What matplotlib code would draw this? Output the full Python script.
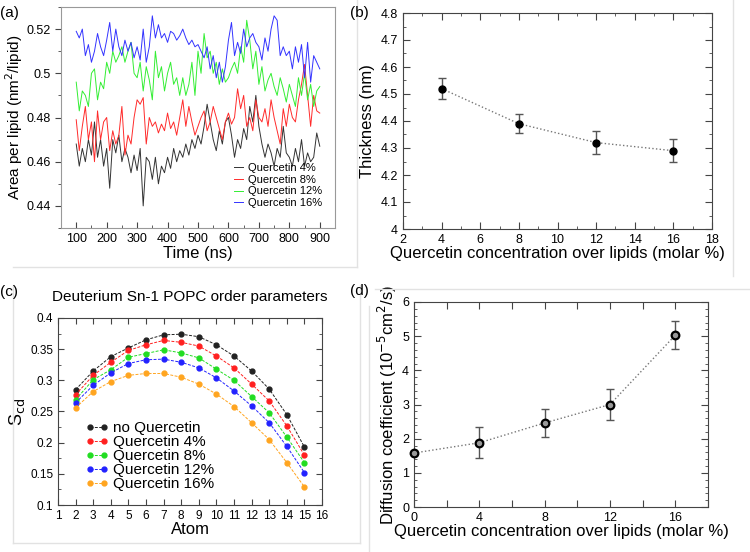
import matplotlib
matplotlib.use("Agg")
from matplotlib import pyplot as plt
from matplotlib.lines import Line2D
from matplotlib.ticker import MultipleLocator

plt.rcParams['font.family'] = ['Liberation Sans', 'DejaVu Sans']

# ---- panel (a): area per lipid vs time, one value every 10 ns ----
time_ns = list(range(100, 901, 10))
apl_4 = [0.468, 0.458, 0.466, 0.460, 0.470, 0.463, 0.478, 0.462, 0.470, 0.458,
         0.466, 0.448, 0.470, 0.464, 0.472, 0.460, 0.466, 0.462, 0.455, 0.463,
         0.456, 0.466, 0.440, 0.462, 0.460, 0.452, 0.462, 0.450, 0.458, 0.455,
         0.462, 0.457, 0.466, 0.460, 0.465, 0.462, 0.468, 0.463, 0.470, 0.466,
         0.472, 0.468, 0.476, 0.486, 0.478, 0.470, 0.465, 0.474, 0.468, 0.478,
         0.480, 0.472, 0.462, 0.470, 0.466, 0.475, 0.470, 0.485, 0.478, 0.490,
         0.476, 0.468, 0.462, 0.468, 0.464, 0.458, 0.466, 0.462, 0.476, 0.464,
         0.462, 0.458, 0.466, 0.460, 0.470, 0.458, 0.464, 0.460, 0.462, 0.473,
         0.467]
apl_8 = [0.479, 0.465, 0.476, 0.485, 0.470, 0.478, 0.460, 0.483, 0.470, 0.478,
         0.480, 0.465, 0.474, 0.468, 0.472, 0.485, 0.463, 0.472, 0.468, 0.480,
         0.488, 0.486, 0.489, 0.468, 0.480, 0.476, 0.478, 0.473, 0.477, 0.474,
         0.482, 0.475, 0.478, 0.472, 0.480, 0.488, 0.476, 0.485, 0.478, 0.472,
         0.476, 0.480, 0.483, 0.474, 0.478, 0.485, 0.480, 0.475, 0.470, 0.478,
         0.482, 0.477, 0.480, 0.493, 0.484, 0.490, 0.476, 0.480, 0.474, 0.488,
         0.480, 0.478, 0.484, 0.476, 0.488, 0.480, 0.474, 0.468, 0.484, 0.476,
         0.486, 0.480, 0.478, 0.488, 0.495, 0.504, 0.490, 0.476, 0.490, 0.483,
         0.482]
apl_12 = [0.496, 0.483, 0.492, 0.490, 0.485, 0.500, 0.502, 0.488, 0.496, 0.493,
          0.505, 0.500, 0.510, 0.505, 0.508, 0.512, 0.505, 0.510, 0.514, 0.500,
          0.498, 0.505, 0.492, 0.503, 0.497, 0.488, 0.510, 0.498, 0.503, 0.492,
          0.500, 0.505, 0.495, 0.498, 0.490, 0.498, 0.490, 0.495, 0.505, 0.490,
          0.510, 0.500, 0.518, 0.507, 0.510, 0.500, 0.505, 0.495, 0.502, 0.496,
          0.498, 0.502, 0.505, 0.500, 0.512, 0.505, 0.524, 0.515, 0.502, 0.510,
          0.495, 0.503, 0.492, 0.497, 0.500, 0.494, 0.490, 0.498, 0.493, 0.487,
          0.495, 0.490, 0.485, 0.498, 0.490, 0.500, 0.488, 0.495, 0.485, 0.492,
          0.494]
apl_16 = [0.519, 0.516, 0.520, 0.508, 0.513, 0.505, 0.510, 0.518, 0.512, 0.508,
          0.515, 0.523, 0.510, 0.520, 0.512, 0.508, 0.515, 0.510, 0.514, 0.507,
          0.512, 0.506, 0.520, 0.505, 0.512, 0.526, 0.516, 0.522, 0.516, 0.518,
          0.514, 0.519, 0.518, 0.515, 0.517, 0.520, 0.516, 0.513, 0.515, 0.512,
          0.513, 0.510, 0.507, 0.512, 0.502, 0.508, 0.498, 0.505, 0.496, 0.503,
          0.515, 0.523, 0.508, 0.514, 0.509, 0.520, 0.512, 0.516, 0.518, 0.514,
          0.512, 0.506, 0.516, 0.510, 0.520, 0.526, 0.524, 0.508, 0.512, 0.508,
          0.510, 0.502, 0.512, 0.505, 0.513, 0.498, 0.514, 0.496, 0.508, 0.505,
          0.502]
apl_labels = ["Quercetin 4%", "Quercetin 8%", "Quercetin 12%", "Quercetin 16%"]

# ---- panel (b): thickness ----
conc_b = [4, 8, 12, 16]
thickness = [4.52, 4.39, 4.32, 4.29]
thickness_err = [0.04, 0.035, 0.042, 0.042]

# ---- panel (c): order parameters for atoms 2..15 ----
atoms = list(range(2, 16))
scd_0 = [0.285, 0.315, 0.338, 0.352, 0.365, 0.373, 0.374, 0.370, 0.357, 0.339, 0.315, 0.286, 0.245, 0.193]
scd_4 = [0.277, 0.308, 0.329, 0.348, 0.357, 0.364, 0.361, 0.355, 0.339, 0.320, 0.294, 0.267, 0.227, 0.180]
scd_8 = [0.269, 0.301, 0.317, 0.337, 0.343, 0.349, 0.344, 0.336, 0.318, 0.300, 0.274, 0.248, 0.209, 0.168]
scd_12 = [0.264, 0.292, 0.312, 0.327, 0.333, 0.334, 0.329, 0.320, 0.304, 0.283, 0.259, 0.232, 0.194, 0.152]
scd_16 = [0.256, 0.282, 0.298, 0.308, 0.311, 0.311, 0.305, 0.294, 0.278, 0.258, 0.232, 0.205, 0.168, 0.129]
scd_labels = ["no Quercetin", "Quercetin 4%", "Quercetin 8%", "Quercetin 12%", "Quercetin 16%"]

# ---- panel (d): diffusion ----
conc_d = [0, 4, 8, 12, 16]
diffusion = [1.58, 1.88, 2.46, 3.00, 5.03]
diffusion_err = [0.0, 0.45, 0.42, 0.45, 0.40]

W, H = 750, 552
fig = plt.figure(figsize=(7.5, 5.52), dpi=100)

def px_axes(l, t, r, b):
    # axes from pixel box (left, top, right, bottom)
    return fig.add_axes([l / W, 1 - b / H, (r - l) / W, (b - t) / H])

spine_col = '#444444'

# faint panel frames like in the pasted figure
frame_col = '#e2e2e2'
for xs, ys in [([13, 357], [267, 267]), ([357, 357], [0, 267]),
               ([733, 733], [0, 276]),
               ([13, 13], [285, 543]), ([13, 360], [543, 543]), ([360, 360], [285, 543]),
               ([375, 750], [289, 289]), ([369, 369], [306, 552])]:
    fig.add_artist(Line2D([x / W for x in xs], [1 - y / H for y in ys],
                          color=frame_col, lw=1))

# ---------------- (a) ----------------
ax = px_axes(61, 7, 335, 228)
cols_a = ['#333333', '#ff2b2b', '#33ee33', '#3333ff']
for vals, c, lab in zip([apl_4, apl_8, apl_12, apl_16], cols_a, apl_labels):
    ax.plot(time_ns, vals, color=c, lw=0.7, label=lab)
ax.set_xlim(50, 950)
ax.set_ylim(0.43, 0.53)
ax.set_xticks(range(100, 901, 100))
ax.xaxis.set_minor_locator(MultipleLocator(50))
ax.set_yticks([0.44, 0.46, 0.48, 0.50, 0.52])
ax.set_yticklabels(["0.44", "0.46", "0.48", "0.5", "0.52"])
ax.yaxis.set_minor_locator(MultipleLocator(0.01))
ax.tick_params(axis='x', which='both', direction='in', labelsize=9)
ax.tick_params(axis='y', which='both', direction='out', labelsize=9)
ax.tick_params(which='major', length=4, color=spine_col)
ax.tick_params(which='minor', length=2, color=spine_col)
for s in ax.spines.values():
    s.set_color('#999999')
ax.set_xlabel("Time (ns)", fontsize=12, labelpad=1)
ax.set_ylabel("Area per lipid (nm$^2$/lipid)", fontsize=11, labelpad=1)
ax.legend(loc='lower right', frameon=False, fontsize=8, handlelength=0.8,
          handletextpad=0.5, labelspacing=0.15, borderaxespad=0,
          bbox_to_anchor=(0.97, 0.07))

# ---------------- (b) ----------------
ax = px_axes(403, 13, 712, 229)
ax.errorbar(conc_b, thickness, yerr=thickness_err, fmt='o', color='black', ms=5,
            ecolor='#555555', elinewidth=1, capsize=3, capthick=1, zorder=3)
ax.plot(conc_b, thickness, ls=':', color='#777777', lw=1)
ax.set_xlim(2, 18)
ax.set_ylim(4, 4.8)
ax.xaxis.set_major_locator(MultipleLocator(2))
ax.xaxis.set_minor_locator(MultipleLocator(1))
ax.yaxis.set_minor_locator(MultipleLocator(0.05))
ax.set_yticks([4.0, 4.1, 4.2, 4.3, 4.4, 4.5, 4.6, 4.7, 4.8])
ax.set_yticklabels(["4", "4.1", "4.2", "4.3", "4.4", "4.5", "4.6", "4.7", "4.8"])
ax.tick_params(which='both', direction='in', top=True, right=True, labelsize=9, color=spine_col)
ax.tick_params(which='major', length=5)
ax.tick_params(which='minor', length=2.5)
for s in ax.spines.values():
    s.set_color(spine_col)
ax.set_xlabel("Quercetin concentration over lipids (molar %)", fontsize=12, labelpad=0)
ax.set_ylabel("Thickness (nm)", fontsize=12, labelpad=4)

# ---------------- (c) ----------------
ax = px_axes(58, 318, 322, 505)
cols_c = ['#222222', '#ff2020', '#22dd22', '#2222ff', '#ffa520']
for vals, c, lab in zip([scd_0, scd_4, scd_8, scd_12, scd_16], cols_c, scd_labels):
    ax.plot(atoms, vals, color=c, lw=0.7, ls=(0, (3, 1.5)), marker='o', ms=3.5,
            mfc=c, mec=c, label=lab)
ax.set_xlim(1, 16)
ax.set_ylim(0.1, 0.4)
ax.set_xticks(range(1, 17))
ax.set_yticks([0.1, 0.15, 0.2, 0.25, 0.3, 0.35, 0.4])
ax.set_yticklabels(["0.1", "0.15", "0.2", "0.25", "0.3", "0.35", "0.4"])
ax.yaxis.set_minor_locator(MultipleLocator(0.025))
ax.tick_params(which='both', direction='in', top=True, right=True, labelsize=8.5, color=spine_col)
ax.tick_params(which='major', length=4)
ax.tick_params(which='minor', length=2)
for s in ax.spines.values():
    s.set_color(spine_col)
ax.set_xlabel("Atom", fontsize=12, labelpad=0)
ax.set_ylabel("S$_{\\mathrm{cd}}$", fontsize=13, labelpad=2)
ax.set_title("Deuterium Sn-1 POPC order parameters", fontsize=11, pad=12)
ax.legend(loc='lower left', frameon=False, fontsize=11, numpoints=2, handlelength=1.5,
          handletextpad=0.3, labelspacing=0.0, borderaxespad=0,
          bbox_to_anchor=(0.08, 0.04))

# ---------------- (d) ----------------
ax = px_axes(414, 302, 708, 507)
ax.errorbar(conc_d, diffusion, yerr=diffusion_err, fmt='none', ecolor='#555555',
            elinewidth=1, capsize=3, capthick=1, zorder=2)
ax.plot(conc_d, diffusion, ls=':', color='#777777', lw=1, marker='o', ms=5.5,
        mfc='#999999', mec='black', mew=1.6, zorder=3, clip_on=False)
ax.set_xlim(0, 18)
ax.set_ylim(0, 6)
ax.set_xticks(range(0, 19, 2))
ax.set_xticklabels(["0", "", "4", "", "8", "", "12", "", "16", ""])
ax.yaxis.set_major_locator(MultipleLocator(1))
ax.yaxis.set_minor_locator(MultipleLocator(0.2))
ax.tick_params(which='both', direction='in', top=True, right=True, labelsize=9, color=spine_col)
ax.tick_params(which='major', length=5)
ax.tick_params(which='minor', length=2)
for s in ax.spines.values():
    s.set_color(spine_col)
ax.set_xlabel("Quercetin concentration over lipids (molar %)", fontsize=12, labelpad=0)
ax.set_ylabel("Diffusion coefficient (10$^{-5}$cm$^2$/s)", fontsize=12, labelpad=2)

# panel letters
for lab, x, y in [("(a)", 0, 13), ("(b)", 350, 13), ("(c)", 0, 292), ("(d)", 350, 291)]:
    fig.text(x / W, 1 - y / H, lab, fontsize=11, va='center', ha='left')

fig.savefig("out.png", dpi=100)
